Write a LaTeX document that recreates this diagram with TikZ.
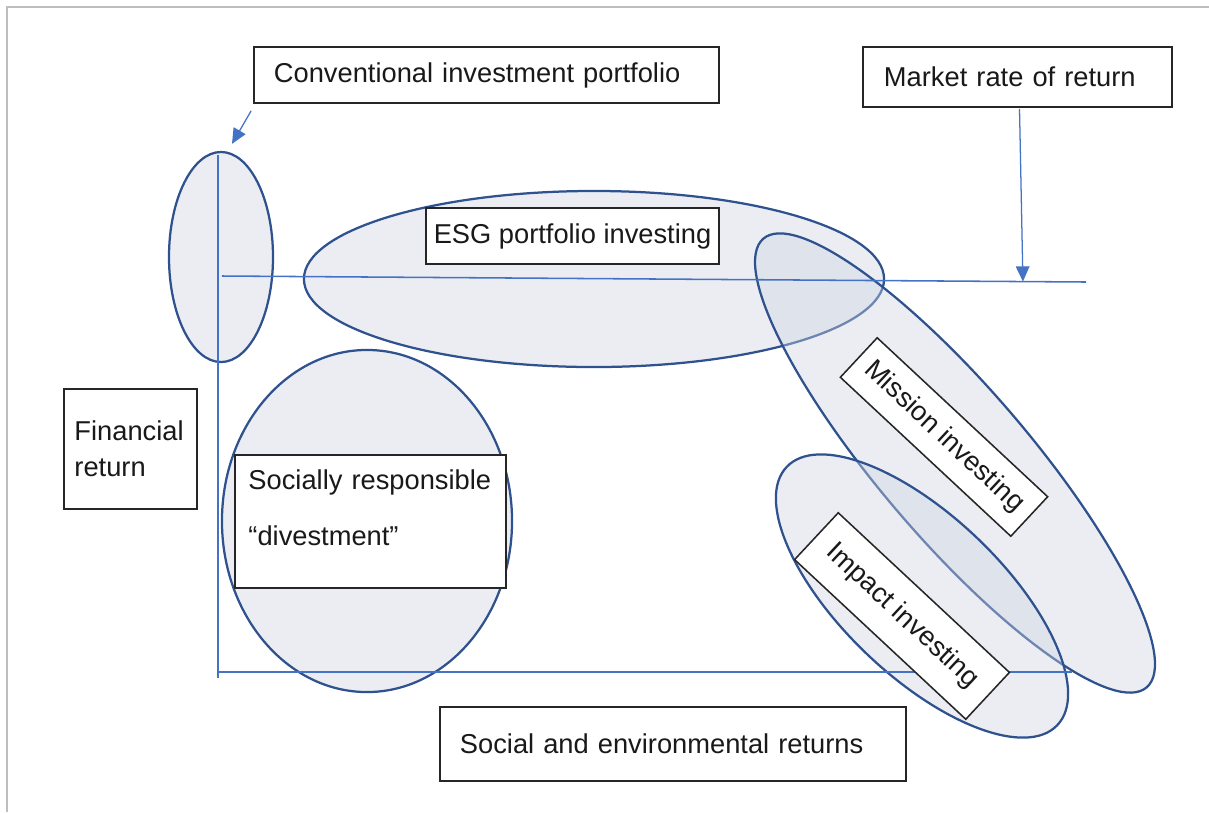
\documentclass[tikz,border=0pt]{standalone}
\usepackage{fontspec}
\setmainfont{Liberation Sans}
\usetikzlibrary{shapes,arrows.meta,calc}

\definecolor{ringblue}{RGB}{47,82,143}
\definecolor{axisblue}{RGB}{68,114,196}
\definecolor{ringfill}{RGB}{205,211,226}
\definecolor{framegray}{RGB}{190,190,190}

\begin{document}
\begin{tikzpicture}[x=0.025cm,y=-0.025cm]
\tikzstyle{label}=[rectangle, draw=black!85, line width=1.1pt, fill=white, text=black!90, font=\fontsize{19.4}{24}\selectfont, inner sep=0pt]
\tikzstyle{group}=[ellipse, draw=ringblue, line width=1.6pt, fill=ringfill, fill opacity=0.4, inner sep=0pt]
\tikzstyle{axis}=[axisblue, line width=1.6pt]
\tikzstyle{connect}=[axisblue, line width=0.9pt, -{Triangle[length=0.38cm,width=0.34cm]}]

  \useasboundingbox (0,0) rectangle (1209,812);
  \draw[framegray, line width=0.05cm] (7,812) -- (7,7) -- (1209,7);

  % investing regions
  \node[group, minimum width=2.6cm, minimum height=5.25cm] (convring) at (221,257) {};
  \node[group, minimum width=14.5cm, minimum height=4.4cm] (esgring) at (594,279) {};
  \node[group, minimum width=7.25cm, minimum height=8.55cm] (srdring) at (367,521) {};
  \node[group, rotate=-49.5, minimum width=14.75cm, minimum height=3.75cm] (missionring) at (955,463) {};
  \node[group, rotate=-43.7, minimum width=9.35cm, minimum height=4cm] (impactring) at (922,596) {};

  % axes and market line
  \coordinate (ytop) at (218,155);
  \coordinate (ybot) at (218,678);
  \coordinate (origin) at (218,672);
  \coordinate (xend) at (1072,672);
  \coordinate (mleft) at (222,276);
  \coordinate (mright) at (1086,282);
  \draw[axis] (ytop) -- (ybot);
  \draw[axis] (origin) -- (xend);
  \draw[axisblue, line width=1.1pt] (mleft) -- (mright);

  % labels
  \node[label, text width=10.625cm, inner xsep=0.5cm, minimum height=1.4cm, align=left] (conv) at (486.5,75) {Conventional investment portfolio};
  \node[label, text width=6.675cm, inner xsep=0.525cm, minimum height=1.5cm, align=left] (market) at (1017.5,77) {Market rate of return};
  \node[label, minimum width=7.325cm, minimum height=1.4cm] (esg) at (572.5,236) {ESG portfolio investing};
  \node[label, text width=2.8cm, inner xsep=0.26cm, minimum height=3cm, align=left, font=\fontsize{19.4}{25.6}\selectfont] (finance) at (130.5,449) {Financial\\return};
  \node[label, text width=6.1cm, inner xsep=0.34cm, minimum height=3.325cm, text depth=2.08cm, align=left, font=\fontsize{19.4}{39.8}\selectfont] (srd) at (370.5,521.5) {Socially responsible\\“divestment”};
  \node[label, text width=10.65cm, inner xsep=0.5cm, minimum height=1.85cm, align=left] (social) at (673,744) {Social and environmental returns};
  \node[label, rotate=-43, minimum width=5.825cm, minimum height=1.35cm] (mission) at (944,437) {Mission investing};
  \node[label, rotate=-43, minimum width=5.85cm, minimum height=1.6cm] (impact) at (902,616) {Impact investing};

  \draw[connect] ([shift={(-2,7)}]conv.south west) -- ([shift={(11,-7)}]convring.north);
  \draw[connect] ([shift={(2,1)}]market.south) -- ($(mleft)!0.927!(mright)$);

\end{tikzpicture}
\end{document}
